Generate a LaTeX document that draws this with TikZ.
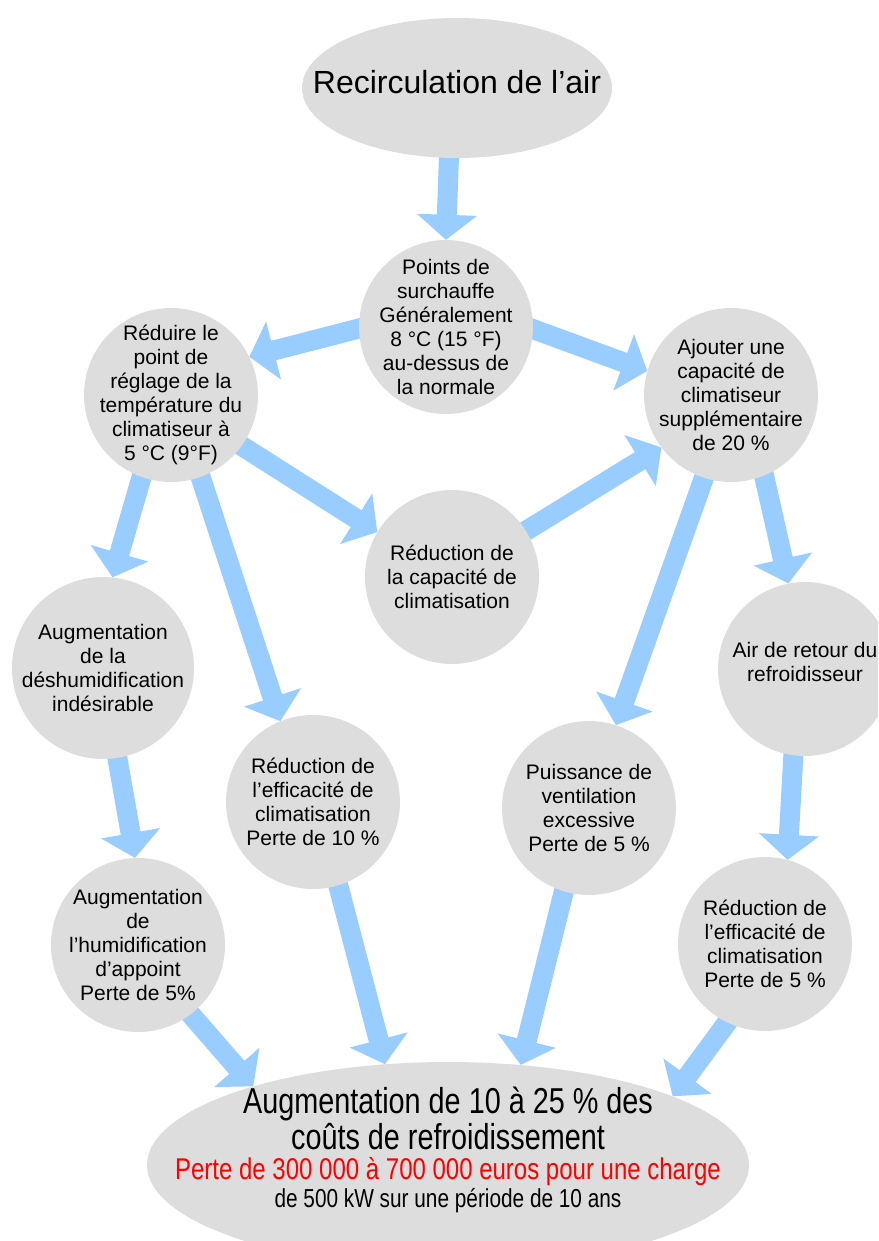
\documentclass[tikz,border=0pt]{standalone}
\usepackage{fontspec}
\setmainfont{Liberation Sans}
\newfontfamily\condfont{Liberation Sans}[FakeStretch=0.8]
\usetikzlibrary{calc,shapes.geometric}
\pgfdeclarelayer{bg}
\pgfsetlayers{bg,main}
\definecolor{bubgray}{HTML}{DDDDDD}
\definecolor{arrblue}{HTML}{99CCFF}
\definecolor{losered}{HTML}{FF0000}
\newcommand{\blk}[4]{%
  \path ($(#1.#2)!6pt!(#1.center)$) coordinate (bkT) (#3.#4) coordinate (bkP);
  \path ($(bkP)!25pt!(bkT)$) coordinate (bkB);
  \fill[arrowfill] ($(bkT)!10pt!90:(bkP)$) -- ($(bkB)!10pt!90:(bkP)$) -- ($(bkB)!30pt!90:(bkP)$) -- (bkP)
     -- ($(bkB)!30pt!-90:(bkP)$) -- ($(bkB)!10pt!-90:(bkP)$) -- ($(bkT)!10pt!-90:(bkP)$) -- cycle;
}
\begin{document}
\begin{tikzpicture}[x=1pt,y=-1pt,
  bub/.style={circle,fill=bubgray,minimum size=174pt,inner sep=0pt},
  txt/.style={align=center,font=\fontsize{21}{24}\selectfont,inner sep=0pt,text=black},
  arrowfill/.style={fill=arrblue}]
\useasboundingbox (0,0) rectangle (878,1241);
\clip (0,0) rectangle (878,1241);

% nodes
\node[ellipse,fill=bubgray,minimum width=310pt,minimum height=140pt,inner sep=0pt] (top) at (457,88) {};
\node[txt,font=\fontsize{32}{36}\selectfont] (topT) at (457,82) {Recirculation de l’air};

\node[bub] (pts) at (446,327) {};
\node[txt] (ptsT) at (pts) {Points de\\surchauffe\\Généralement\\8 °C (15 °F)\\au-dessus de\\la normale};

\node[bub] (red) at (171,395) {};
\node[txt] (redT) at (red) {Réduire le\\point de\\réglage de la\\température du\\climatiseur à\\5 °C (9°F)};

\node[bub] (ajo) at (731,395) {};
\node[txt] (ajoT) at (ajo) {Ajouter une\\capacité de\\climatiseur\\supplémentaire\\de 20 \%};

\node[bub] (cap) at (452,577) {};
\node[txt] (capT) at (cap) {Réduction de\\la capacité de\\climatisation};

\node[bub,minimum size=182pt] (aug) at (103,668) {};
\node[txt] (augT) at (aug) {Augmentation\\de la\\déshumidification\\indésirable};

\node[bub] (air) at (805,669) {};
\node[txt] (airT) at (805,662) {Air de retour du\\refroidisseur};

\node[bub] (eff) at (313,802) {};
\node[txt] (effT) at (eff) {Réduction de\\l’efficacité de\\climatisation\\Perte de 10 \%};

\node[bub] (pui) at (589,808) {};
\node[txt] (puiT) at (pui) {Puissance de\\ventilation\\excessive\\Perte de 5 \%};

\node[bub] (hum) at (138,945) {};
\node[txt] (humT) at (hum) {Augmentation\\de\\l’humidification\\d’appoint\\Perte de 5\%};

\node[bub] (efc) at (765,944) {};
\node[txt] (efcT) at (efc) {Réduction de\\l’efficacité de\\climatisation\\Perte de 5 \%};

\node[ellipse,fill=bubgray,minimum width=602pt,minimum height=206pt,inner sep=0pt] (bot) at (448,1165) {};
\node[txt,font=\condfont\fontsize{36}{30}\selectfont] (botT) at (448,1150)
  {Augmentation de 10 à 25 \% des\\[2pt]
   coûts de refroidissement\\
   \fontsize{30}{30}\selectfont\color{losered}Perte de 300 000 à 700 000 euros pour une charge\\[-2pt]
   \fontsize{26}{30}\selectfont de 500 kW sur une période de 10 ans};

% connectors
\begin{pgfonlayer}{bg}
\blk{top}{263.5}{pts}{90}
\blk{pts}{180}{red}{26}
\blk{pts}{0}{ajo}{164}
\blk{red}{-36}{cap}{149}
\blk{cap}{32}{ajo}{217}
\blk{red}{250}{aug}{84}
\blk{red}{-70}{eff}{112}
\blk{aug}{-81}{hum}{92}
\blk{ajo}{-108}{pui}{72}
\blk{ajo}{-67}{air}{101}
\blk{air}{-98}{efc}{75}
\blk{hum}{-53}{bot}{158.5}
\blk{eff}{-73}{bot}{122}
\blk{pui}{-107}{bot}{54}
\blk{efc}{-115}{bot}{17}
\end{pgfonlayer}
\end{tikzpicture}
\end{document}
